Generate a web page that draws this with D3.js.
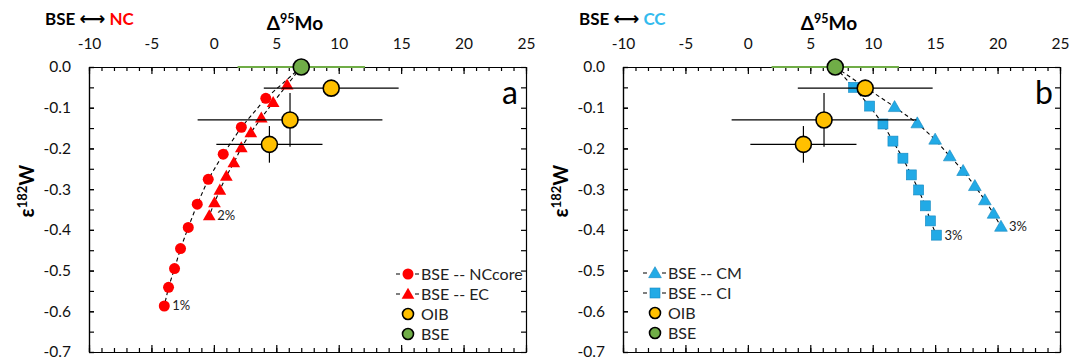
<!DOCTYPE html>
<html>
<head>
<meta charset="utf-8">
<script src="https://cdn.jsdelivr.net/npm/d3@7"></script>
<style>
  body { margin: 0; background: #fff; }
  svg { font-family: Lato, "Open Sans", sans-serif; }
</style>
</head>
<body>
<svg width="1083" height="361"></svg>
<script>
// data: [d95Mo, e182W]
const bse = [7.0, 0.0, 5.1];                 // x, y, x error
const oib = [[9.4, -0.052, 5.4, 0], [6.1, -0.13, 7.4, 0.066], [4.45, -0.19, 4.25, 0.045]];
const ncCore = [[4.16, -0.077], [2.2, -0.148], [0.75, -0.214], [-0.45, -0.276], [-1.33, -0.337],
                [-2.05, -0.394], [-2.67, -0.446], [-3.15, -0.495], [-3.63, -0.541], [-3.97, -0.587]];
const ec = [[5.87, -0.044], [4.75, -0.087], [3.8, -0.125], [2.96, -0.161], [2.2, -0.198],
            [1.6, -0.235], [1.0, -0.268], [0.48, -0.302], [0.05, -0.333], [-0.37, -0.365]];
const cm = [[11.75, -0.098], [13.57, -0.138], [15.0, -0.178], [16.17, -0.219], [17.24, -0.255],
            [18.18, -0.292], [18.98, -0.327], [19.68, -0.36], [20.27, -0.392]];
const ci = [[8.46, -0.05], [9.75, -0.096], [10.82, -0.14], [11.62, -0.182], [12.42, -0.224],
            [13.09, -0.265], [13.68, -0.302], [14.22, -0.341], [14.62, -0.378], [15.1, -0.413]];
const xTicks = [-10, -5, 0, 5, 10, 15, 20, 25];
const yTicks = [0, -0.1, -0.2, -0.3, -0.4, -0.5, -0.6, -0.7];

const RED = '#ff0000', BLUE = '#22aae6', YEL = '#ffc000', GRN = '#70ad47';
const svg = d3.select('svg');

function marker(g, type, x, y, col) {
    if (type === 'circle') {
        g.append('circle').attr('cx', x).attr('cy', y).attr('r', 5.5).attr('fill', col);
    } else if (type === 'tri') {
        g.append('path').attr('d', d3.symbol(d3.symbolTriangle, 70)()).attr('transform', `translate(${x},${y + 1})`)
            .attr('fill', col).attr('stroke', col === BLUE ? '#1588c0' : 'none').attr('stroke-width', 0.6);
    } else {
        g.append('rect').attr('x', x - 5).attr('y', y - 5).attr('width', 10).attr('height', 10)
            .attr('fill', col).attr('stroke', '#1588c0').attr('stroke-width', 0.6);
    }
}

function panel(opt) {
    const x = d3.scaleLinear().domain([-10, 25]).range([opt.x0, opt.x0 + 437]);
    const y = d3.scaleLinear().domain([0, -0.7]).range([67, 352]);
    const g = svg.append('g');

    // axes
    const top = g.append('g').attr('transform', 'translate(0,67)');
    top.call(d3.axisTop(x).tickValues(d3.range(-10, 26)).tickSizeInner(-4).tickSizeOuter(0).tickFormat(''));
    top.append('g').call(d3.axisTop(x).tickValues(xTicks).tickSizeInner(-7).tickSizeOuter(0).tickPadding(18).tickFormat(d => String(d)));
    const bot = g.append('g').attr('transform', 'translate(0,352)');
    bot.call(d3.axisBottom(x).tickValues(d3.range(-10, 26)).tickSizeInner(-4).tickSizeOuter(0).tickFormat(''));
    bot.append('g').call(d3.axisBottom(x).tickValues(xTicks).tickSizeInner(-7).tickSizeOuter(0).tickFormat(''));
    const left = g.append('g').attr('transform', `translate(${opt.x0},0)`);
    left.call(d3.axisLeft(y).tickValues(d3.range(0, 15).map(i => -i * 0.05)).tickSizeInner(-5).tickSizeOuter(0).tickFormat(''));
    left.append('g').call(d3.axisLeft(y).tickValues(yTicks).tickSizeInner(-5).tickSizeOuter(0).tickPadding(18).tickFormat(d => d.toFixed(1)));
    g.append('g').attr('transform', `translate(${opt.x0 + 437},0)`)
        .call(d3.axisRight(y).tickValues(d3.range(0, 15).map(i => -i * 0.05)).tickSizeInner(-5).tickSizeOuter(0).tickFormat(''));
    g.selectAll('.domain, .tick line').attr('stroke', '#000').attr('stroke-width', 1.2);
    g.selectAll('.tick text').attr('font-size', 15.5).attr('fill', '#111').attr('font-family', 'Lato, sans-serif');

    // titles
    const hd = g.append('text').attr('x', opt.x0 - 44).attr('y', 25).attr('font-size', 17).attr('font-weight', 'bold');
    hd.append('tspan').text('BSE ');
    hd.append('tspan').text('\u27f7').attr('font-family', 'DejaVu Sans').attr('font-size', 18);
    hd.append('tspan').text(' ' + opt.end).attr('fill', opt.endCol);
    const tt = g.append('text').attr('x', x(6.5)).attr('y', 30).attr('text-anchor', 'middle')
        .attr('font-size', 19).attr('font-weight', 'bold');
    tt.append('tspan').text('\u0394');
    tt.append('tspan').text('95').attr('font-size', 12.5).attr('dy', -7);
    tt.append('tspan').text('Mo').attr('dy', 7);
    const yt = g.append('text').attr('transform', `translate(${opt.x0 - 55},191) rotate(-90)`)
        .attr('text-anchor', 'middle').attr('font-size', 20).attr('font-weight', 'bold');
    yt.append('tspan').text('\u03b5');
    yt.append('tspan').text('182').attr('font-size', 13).attr('dy', -7);
    yt.append('tspan').text('W').attr('dy', 7);
    g.append('text').attr('x', opt.x0 + 421).attr('y', 104).attr('text-anchor', 'middle')
        .attr('font-size', 32).text(opt.letter);

    // mixing lines
    const line = d3.line().x(d => x(d[0])).y(d => y(d[1]));
    opt.series.forEach(s => {
        g.append('path').attr('d', line([[bse[0], bse[1]]].concat(s.data)))
            .attr('fill', 'none').attr('stroke', '#000').attr('stroke-width', 1.1).attr('stroke-dasharray', '4,3');
    });
    opt.series.forEach(s => {
        s.data.forEach(d => marker(g, s.type, x(d[0]), y(d[1]), s.col));
        const last = s.data[s.data.length - 1];
        g.append('text').attr('x', x(last[0]) + 8).attr('y', y(last[1]) + 4.5)
            .attr('font-size', 13).attr('fill', '#222').text(s.pct);
    });

    // OIB with error bars
    oib.forEach(d => {
        g.append('line').attr('x1', x(d[0] - d[2])).attr('x2', x(d[0] + d[2])).attr('y1', y(d[1])).attr('y2', y(d[1]))
            .attr('stroke', '#000').attr('stroke-width', 1.2);
        if (d[3]) g.append('line').attr('x1', x(d[0])).attr('x2', x(d[0])).attr('y1', y(d[1] - d[3])).attr('y2', y(d[1] + d[3]))
            .attr('stroke', '#000').attr('stroke-width', 1.2);
    });
    oib.forEach(d => g.append('circle').attr('cx', x(d[0])).attr('cy', y(d[1])).attr('r', 8)
        .attr('fill', YEL).attr('stroke', '#000').attr('stroke-width', 1.6));

    // BSE
    g.append('line').attr('x1', x(bse[0] - bse[2])).attr('x2', x(bse[0] + bse[2])).attr('y1', y(0)).attr('y2', y(0))
        .attr('stroke', GRN).attr('stroke-width', 2.2);
    g.append('circle').attr('cx', x(bse[0])).attr('cy', y(bse[1])).attr('r', 8)
        .attr('fill', GRN).attr('stroke', '#000').attr('stroke-width', 1.6);

    // legend
    const lg = g.append('g').attr('transform', `translate(${opt.legX},${opt.legY})`);
    const items = opt.series.map(s => ({type: s.type, col: s.col, name: s.name}))
        .concat([{type: 'oib', name: 'OIB'}, {type: 'bse', name: 'BSE'}]);
    items.forEach((it, i) => {
        const cy = i * 20;
        if (it.type === 'oib' || it.type === 'bse') {
            lg.append('circle').attr('cx', 0).attr('cy', cy).attr('r', 5.5)
                .attr('fill', it.type === 'oib' ? YEL : GRN).attr('stroke', '#000').attr('stroke-width', 1.6);
        } else {
            lg.append('line').attr('x1', -12).attr('x2', 11).attr('y1', cy).attr('y2', cy)
                .attr('stroke', '#000').attr('stroke-width', 1.1).attr('stroke-dasharray', '4,15,4');
            marker(lg, it.type, 0, cy, it.col);
        }
        lg.append('text').attr('x', 13).attr('y', cy + 5.5).attr('font-size', 16).attr('fill', '#222').text(it.name);
    });
}

panel({
    x0: 89, end: 'NC', endCol: RED, letter: 'a', legX: 408, legY: 274,
    series: [
        {data: ncCore, type: 'circle', col: RED, name: 'BSE -- NCcore', pct: '1%'},
        {data: ec, type: 'tri', col: RED, name: 'BSE -- EC', pct: '2%'}
    ]
});
panel({
    x0: 623, end: 'CC', endCol: '#33bbee', letter: 'b', legX: 655, legY: 273,
    series: [
        {data: cm, type: 'tri', col: BLUE, name: 'BSE -- CM', pct: '3%'},
        {data: ci, type: 'square', col: BLUE, name: 'BSE -- CI', pct: '3%'}
    ]
});
</script>
</body>
</html>
